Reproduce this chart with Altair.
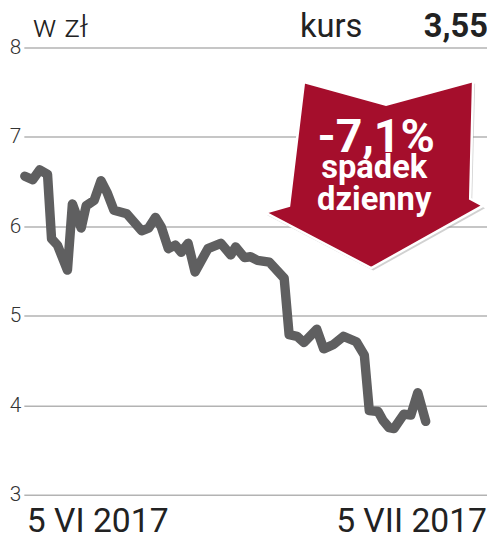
import altair as alt
import pandas as pd

# Days since 5 VI 2017 and share price (zł)
days = [0, 0.59, 1.11, 1.70, 2.0, 2.44, 3.19, 3.56, 4.22, 4.59, 5.19, 5.70, 6.15, 6.67,
        7.63, 8.74, 9.26, 9.78, 10.22, 10.74, 11.26, 11.70, 12.22, 12.74, 13.70, 14.67,
        15.41, 15.78, 16.44, 16.89, 17.41, 18.30, 19.41, 19.78, 20.37, 20.89, 21.85,
        22.37, 23.11, 23.85, 24.81, 25.41, 25.78, 26.44, 26.81, 27.26, 27.63, 28.37,
        28.89, 29.41, 30.0]
prices = [6.56, 6.52, 6.63, 6.58, 5.86, 5.79, 5.51, 6.25, 5.98, 6.23, 6.29, 6.51, 6.38, 6.18,
          6.14, 5.95, 5.98, 6.10, 5.99, 5.75, 5.79, 5.71, 5.81, 5.49, 5.75, 5.81,
          5.68, 5.77, 5.65, 5.66, 5.62, 5.60, 5.42, 4.79, 4.77, 4.70, 4.85,
          4.63, 4.68, 4.77, 4.71, 4.56, 3.94, 3.93, 3.83, 3.75, 3.74, 3.90,
          3.89, 4.14, 3.82]
y_ticks = [3, 4, 5, 6, 7, 8]
unit_label = "w zł"
kurs_label = "kurs"
kurs_value = "3,55"
change_label = "-7,1%"
change_line2 = "spadek"
change_line3 = "dzienny"
start_label = "5 VI 2017"
end_label = "5 VII 2017"

df = pd.DataFrame({"day": days, "price": prices})

W, H = 468, 537
xs = alt.Scale(domain=[-0.074, 34.59], nice=False, zero=False)
ys = alt.Scale(domain=[2.469, 8.409], nice=False, zero=False)

base = alt.Chart(df)

line = base.mark_line(color="#5f5f60", strokeWidth=9.5, strokeJoin="round", strokeCap="round").encode(
    x=alt.X("day:Q", scale=xs, axis=None),
    y=alt.Y("price:Q", scale=ys, title=None,
            axis=alt.Axis(values=y_ticks, grid=True, domain=False, ticks=False,
                          labelFontSize=21, labelFont="Roboto", labelFontWeight=300,
                          labelColor="#333333", labelPadding=3,
                          gridColor="#b3b3b3", gridWidth=1.5)),
)

def txt(s, px, py, size, weight="normal", align="left", color="#222222", baseline="alphabetic"):
    return alt.Chart(pd.DataFrame({"t": [s]})).mark_text(
        font="Roboto", fontSize=size, fontWeight=weight, align=align,
        baseline=baseline, color=color
    ).encode(text="t:N", x=alt.value(px), y=alt.value(py))

arrow_path = ("M -0.645 -0.85 L 0.109 -0.641 L 0.909 -0.859 L 0.882 0.223 L 1 0.286 "
              "L -0.027 0.859 L -1 0.35 L -0.782 0.286 Z")

arrow_df = pd.DataFrame({"k": [change_label]})
shadow = alt.Chart(arrow_df).mark_point(
    shape=arrow_path, size=48400, filled=True, fill="#9a9a9a", opacity=0.45, strokeWidth=0
).encode(x=alt.value(356), y=alt.value(168))
arrow = alt.Chart(arrow_df).mark_point(
    shape=arrow_path, size=48400, filled=True, fill="#a50e2c", stroke="white",
    strokeWidth=2.5, opacity=1
).encode(x=alt.value(354), y=alt.value(165.5))

layers = [
    line,
    shadow,
    arrow,
    txt(unit_label, 9, 27, 32, weight=300),
    txt(kurs_label, 279, 27, 33, weight="normal"),
    txt(kurs_value, 469, 27, 33, weight="bold", align="right"),
    txt(change_label, 356, 143, 47, weight="bold", align="center", color="white"),
    txt(change_line2, 354, 169, 33, weight="bold", align="center", color="white"),
    txt(change_line3, 354, 201, 33, weight="bold", align="center", color="white"),
    txt(start_label, 3, 527, 34),
    txt(end_label, 468, 527, 34, align="right"),
]

chart = alt.layer(*layers).properties(
    width=W, height=H,
    padding={"left": 16, "top": 0, "right": 0, "bottom": 0},
    autosize="none",
).configure_view(stroke=None)

chart.save("out.html", embed_options={"renderer": "svg", "actions": False})
